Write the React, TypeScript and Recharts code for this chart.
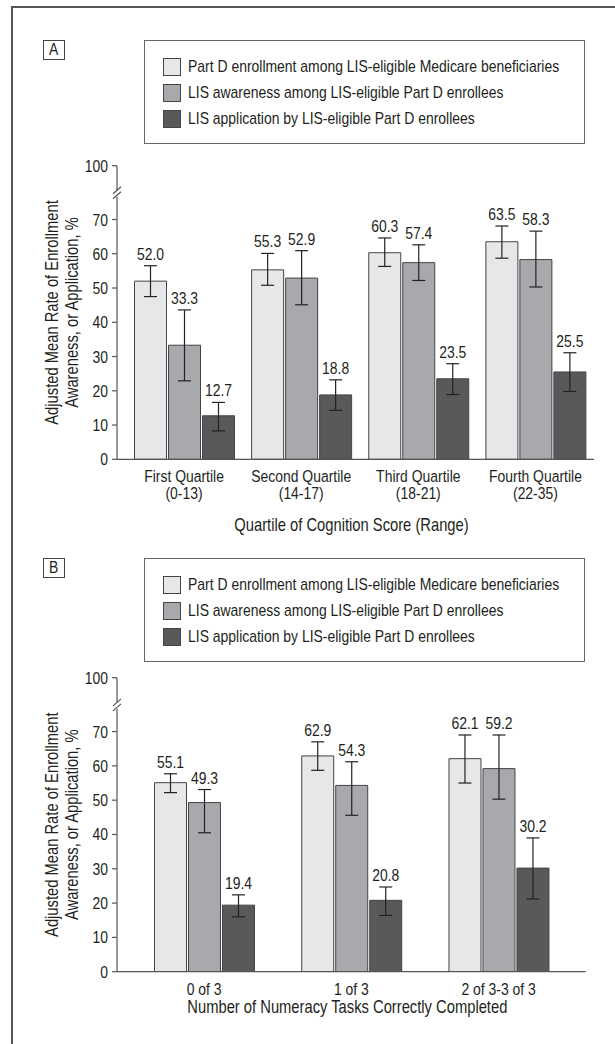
import React from 'react';
import { BarChart, Bar, XAxis, YAxis, ErrorBar, LabelList, Legend } from 'recharts';

// ---------- shared series ----------
const seriesNames = [
  'Part D enrollment among LIS-eligible Medicare beneficiaries',
  'LIS awareness among LIS-eligible Part D enrollees',
  'LIS application by LIS-eligible Part D enrollees',
];
const seriesColors = ['#e6e7e8', '#a7a9ac', '#58595b'];

// ---------- Panel A: cognition quartiles ----------
const cognitionLine1 = ['First Quartile', 'Second Quartile', 'Third Quartile', 'Fourth Quartile'];
const cognitionLine2 = ['(0-13)', '(14-17)', '(18-21)', '(22-35)'];
const cogEnroll = [52.0, 55.3, 60.3, 63.5];
const cogEnrollLo = [47.5, 50.8, 56.3, 58.7];
const cogEnrollHi = [56.5, 60.1, 64.6, 68.1];
const cogAware = [33.3, 52.9, 57.4, 58.3];
const cogAwareLo = [22.9, 45.1, 52.2, 50.3];
const cogAwareHi = [43.6, 60.9, 62.6, 66.6];
const cogApply = [12.7, 18.8, 23.5, 25.5];
const cogApplyLo = [8.3, 14.3, 18.9, 19.8];
const cogApplyHi = [16.6, 23.2, 27.9, 31.1];

// ---------- Panel B: numeracy ----------
const numeracyCats = ['0 of 3', '1 of 3', '2 of 3-3 of 3'];
const numEnroll = [55.1, 62.9, 62.1];
const numEnrollLo = [52.2, 58.7, 55.0];
const numEnrollHi = [57.7, 67.0, 69.0];
const numAware = [49.3, 54.3, 59.2];
const numAwareLo = [40.5, 45.6, 50.3];
const numAwareHi = [53.1, 61.2, 69.0];
const numApply = [19.4, 20.8, 30.2];
const numApplyLo = [16.0, 16.4, 21.2];
const numApplyHi = [22.4, 24.7, 39.0];

// ---------- y axis (broken between 70 and 100) ----------
const yTicks = [0, 10, 20, 30, 40, 50, 60, 70];
const axisBreakAt = 77.5;
const axisTopPos = 85.7;
const axisTopLabel = '100';

const FONT = "'Liberation Sans', Arial, sans-serif";
const NARROW = 0.82;
const TXT = '#231f20';
const AX = '#555555';

const buildData = (cats: string[], e: number[], eLo: number[], eHi: number[], a: number[], aLo: number[], aHi: number[], p: number[], pLo: number[], pHi: number[]) =>
  cats.map((c, i) => ({
    cat: c,
    enroll: e[i], enrollErr: [e[i] - eLo[i], eHi[i] - e[i]],
    aware: a[i], awareErr: [a[i] - aLo[i], aHi[i] - a[i]],
    apply: p[i], applyErr: [p[i] - pLo[i], pHi[i] - p[i]],
  }));

const dataA = buildData(cognitionLine1, cogEnroll, cogEnrollLo, cogEnrollHi, cogAware, cogAwareLo, cogAwareHi, cogApply, cogApplyLo, cogApplyHi);
const dataB = buildData(numeracyCats, numEnroll, numEnrollLo, numEnrollHi, numAware, numAwareLo, numAwareHi, numApply, numApplyLo, numApplyHi);

// condensed text (Arial Narrow look): Liberation Sans squeezed horizontally
const NText = ({ x, y, anchor = 'middle', size = 17, rotate = 0, baseline, children }: any) => (
  <text
    transform={`translate(${x}, ${y})${rotate ? ` rotate(${rotate})` : ''} scale(${NARROW}, 1)`}
    textAnchor={anchor}
    dominantBaseline={baseline}
    fontSize={size}
    fill={TXT}
    fontFamily={FONT}
  >
    {children}
  </text>
);

const YTick = (props: any) => {
  const { x, y, payload } = props;
  const v = payload.value;
  const ax = x + 8; // axis line position (tickSize 5 + tickMargin 3)
  if (v === axisBreakAt) {
    return (
      <g>
        <rect x={ax - 3} y={y - 3} width={6} height={6} fill="#fff" />
        <line x1={ax - 4} y1={y} x2={ax + 4} y2={y - 7} stroke={AX} strokeWidth={1.2} />
        <line x1={ax - 4} y1={y + 5} x2={ax + 4} y2={y - 2} stroke={AX} strokeWidth={1.2} />
      </g>
    );
  }
  return (
    <g>
      <line x1={ax - 5} y1={y} x2={ax} y2={y} stroke={AX} strokeWidth={1.2} />
      <NText x={x - 1} y={y} anchor="end" baseline="central">
        {v === axisTopPos ? axisTopLabel : String(v)}
      </NText>
    </g>
  );
};

const XTickA = (props: any) => {
  const { x, y, payload } = props;
  const idx = cognitionLine1.indexOf(payload.value);
  return (
    <g>
      <NText x={x} y={y + 23}>{payload.value}</NText>
      <NText x={x} y={y + 40}>{cognitionLine2[idx]}</NText>
    </g>
  );
};

const XTickB = (props: any) => {
  const { x, y, payload } = props;
  return <NText x={x} y={y + 23}>{payload.value}</NText>;
};

const YTitle = (props: any) => {
  const vb = props.viewBox || {};
  const cy = vb.y + vb.height / 2;
  return (
    <g>
      <NText x={58} y={cy} rotate={-90} size={18}>Adjusted Mean Rate of Enrollment</NText>
      <NText x={77.5} y={cy} rotate={-90} size={18}>Awareness, or Application, %</NText>
    </g>
  );
};

const makeXTitle = (text: string, dy: number) => (props: any) => {
  const vb = props.viewBox || {};
  return <NText x={vb.x + vb.width / 2 - 4} y={vb.y + dy} size={18}>{text}</NText>;
};

const makeValueLabel = (his: number[]) => (props: any) => {
  const vb = props.viewBox && props.viewBox.width !== undefined ? props.viewBox : props;
  const { x, y, width, height } = vb;
  const value = Number(props.value);
  const index = props.index;
  const pxPerUnit = height / value;
  const topY = y - (his[index] - value) * pxPerUnit;
  return <NText x={x + width / 2} y={topY - 6}>{value.toFixed(1)}</NText>;
};

const renderLegend = (props: any) => {
  const payload = [...(props.payload || [])].sort(
    (a: any, b: any) => seriesNames.indexOf(a.value) - seriesNames.indexOf(b.value)
  );
  return (
    <div style={{ width: 441, height: 104, boxSizing: 'border-box', border: '1.5px solid #666', paddingTop: 13, paddingLeft: 18, fontFamily: FONT, fontSize: 17, color: TXT, background: '#fff' }}>
      {payload.map((p: any, i: number) => (
        <div key={i} style={{ display: 'flex', alignItems: 'center', height: 26, whiteSpace: 'nowrap' }}>
          <span style={{ display: 'inline-block', flex: '0 0 auto', width: 18, height: 18, boxSizing: 'border-box', background: p.color, border: '1px solid #444', marginRight: 7 }} />
          <span style={{ display: 'inline-block', transform: `scaleX(${NARROW})`, transformOrigin: 'left center', whiteSpace: 'nowrap' }}>{p.value}</span>
        </div>
      ))}
    </div>
  );
};

const seriesKeys = ['enroll', 'aware', 'apply'];

const Panel = ({ data, top, height, marginTop, marginRight, marginBottom, xHeight, padding, XTick, xTitle, xTitleDy, his, legendTop }: any) => (
  <div style={{ position: 'absolute', left: 0, top, width: 615, height }}>
    <BarChart width={615} height={height} data={data} margin={{ top: marginTop, right: marginRight, bottom: marginBottom, left: 0 }} barSize={32} barGap={2}>
      <Legend content={renderLegend} layout="horizontal" verticalAlign="middle" align="center" wrapperStyle={{ position: 'absolute', left: 144, top: legendTop, width: 441, height: 104 }} />
      <XAxis dataKey="cat" type="category" padding={padding} axisLine={{ stroke: AX, strokeWidth: 1.2 }} tickLine={false} tickSize={0} tickMargin={0} tick={<XTick />} interval={0} height={xHeight} label={{ content: makeXTitle(xTitle, xTitleDy) } as any} />
      <YAxis type="number" domain={[0, axisTopPos]} ticks={[...yTicks, axisBreakAt, axisTopPos]} interval={0} width={117} tickSize={5} tickMargin={3} tickLine={false} axisLine={{ stroke: AX, strokeWidth: 1.2 }} tick={<YTick />} allowDataOverflow label={{ content: YTitle } as any} />
      {seriesKeys.map((k, si) => (
        <Bar key={k} dataKey={k} name={seriesNames[si]} fill={seriesColors[si]} stroke="#444" strokeWidth={1} isAnimationActive={false}>
          <ErrorBar dataKey={`${k}Err`} width={6.5} stroke="#222" strokeWidth={1.2} direction="y" />
          <LabelList dataKey={k} content={makeValueLabel(his[si])} />
        </Bar>
      ))}
    </BarChart>
  </div>
);

const LetterBox = ({ letter, top }: { letter: string; top: number }) => (
  <div style={{ position: 'absolute', left: 43, top, width: 22, height: 20, boxSizing: 'border-box', border: '1.5px solid #444', fontFamily: FONT, fontSize: 17, color: TXT, textAlign: 'center', lineHeight: '18px' }}>
    <span style={{ display: 'inline-block', transform: `scaleX(${NARROW})` }}>{letter}</span>
  </div>
);

export default function App() {
  return (
    <div style={{ position: 'absolute', left: 0, top: 0, width: 615, height: 1044, overflow: 'hidden', background: '#fff' }}>
      <div style={{ position: 'absolute', left: 11, top: 6, width: 700, height: 1100, borderLeft: '2px solid #555', borderTop: '2px solid #555' }} />
      <Panel data={dataA} top={0} height={545} marginTop={165.7} marginRight={21} marginBottom={25.7} xHeight={60}
        padding={{ left: 8.5, right: 0 }} XTick={XTickA} xTitle="Quartile of Cognition Score (Range)" xTitleDy={72}
        his={[cogEnrollHi, cogAwareHi, cogApplyHi]} legendTop={40} />
      <Panel data={dataB} top={540} height={504} marginTop={137.7} marginRight={29.3} marginBottom={22.3} xHeight={50}
        padding={{ left: 13.5, right: 13.5 }} XTick={XTickB} xTitle="Number of Numeracy Tasks Correctly Completed" xTitleDy={41}
        his={[numEnrollHi, numAwareHi, numApplyHi]} legendTop={18} />
      <LetterBox letter="A" top={40} />
      <LetterBox letter="B" top={558} />
    </div>
  );
}
